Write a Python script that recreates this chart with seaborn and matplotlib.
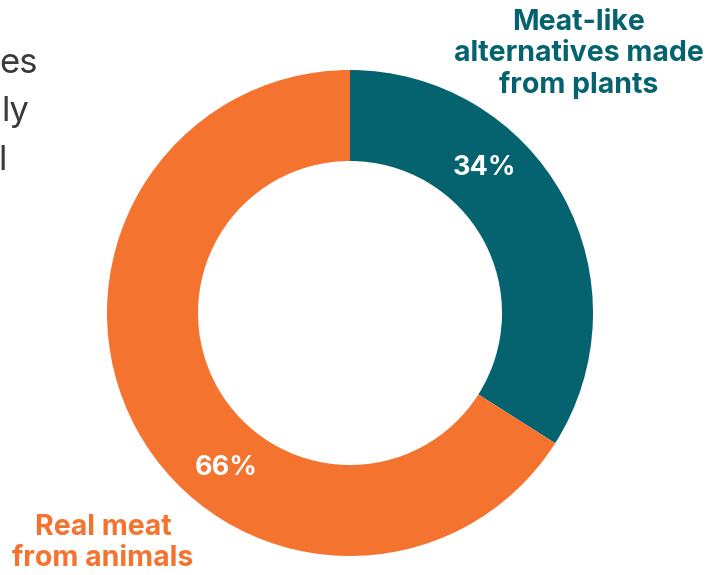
import matplotlib
matplotlib.use("Agg")
import matplotlib.pyplot as plt
import seaborn as sns

# Shares of preference
categories = ["Meat-like\nalternatives made\nfrom plants", "Real meat\nfrom animals"]
shares = [34, 66]
pct_labels = ["34%", "66%"]
colors = ["#05636F", "#F4732F"]

# Partly visible heading lines at the left edge
heading_lines = ["es", "ly", "l"]

sns.set_theme(style="white")
plt.rcParams["font.family"] = ["Inter", "DejaVu Sans"]

W, H = 728, 575
fig = plt.figure(figsize=(W / 100, H / 100), dpi=100)
fig.patch.set_facecolor("white")

cx, cy, R = 350, 313, 243
ax = fig.add_axes([(cx - R) / W, (H - cy - R) / H, 2 * R / W, 2 * R / H])
ax.axis("off")

inner = 152 / 243
wedges, _ = ax.pie(
    shares,
    colors=colors,
    startangle=90,
    counterclock=False,
    radius=1,
    wedgeprops=dict(width=1 - inner, edgecolor="none"),
)
ax.set_xlim(-1, 1)
ax.set_ylim(-1, 1)

def px(x, y):
    return x / W, 1 - y / H

# Percent labels inside the ring
fig.text(*px(484, 168), pct_labels[0], color="white", fontsize=19.5, fontweight="bold",
         ha="center", va="center")
fig.text(*px(226, 468), pct_labels[1], color="white", fontsize=19.5, fontweight="bold",
         ha="center", va="center")

# Category labels
fig.text(*px(579, 54), categories[0], color=colors[0], fontsize=20.5, fontweight="bold",
         ha="center", va="center", linespacing=1.2)
fig.text(*px(103, 543), categories[1], color=colors[1], fontsize=20.5, fontweight="bold",
         ha="center", va="center", linespacing=1.2)

# Heading fragments
for (x, y), t in zip([(38, 73), (29, 121), (7, 170)], heading_lines):
    fig.text(*px(x, y), t, color="#3a3a3a", fontsize=25, ha="right", va="baseline")

fig.savefig("out.png", dpi=100, facecolor="white")
